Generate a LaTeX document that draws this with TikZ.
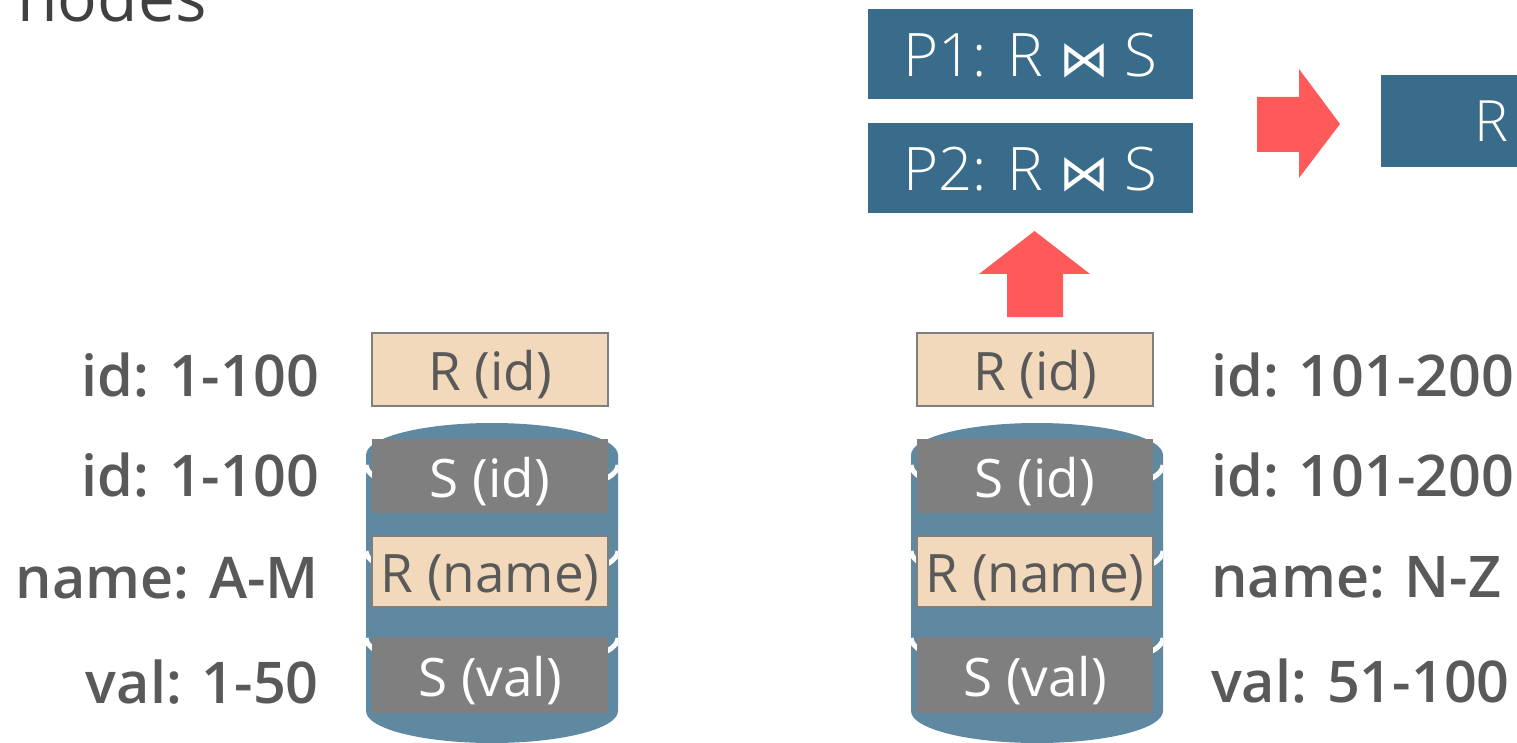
\documentclass[tikz,border=0pt]{standalone}
\usepackage{fontspec}
\setmainfont{Open Sans}
\IfFontExistsTF{Open Sans Semibold}
  {\newfontfamily\semib{Open Sans Semibold}\def\lblsize{57.5}}
  {\IfFontExistsTF{Open Sans SemiBold}
    {\newfontfamily\semib{Open Sans SemiBold}\def\lblsize{57.5}}
    {\newfontfamily\semib[FakeBold=3]{Open Sans}\def\lblsize{56}}}
\IfFontExistsTF{Open Sans Light}
  {\newfontfamily\lightf{Open Sans Light}}
  {\newfontfamily\lightf{Open Sans}}
\newfontfamily\symfont{DejaVu Sans}
\definecolor{boxblue}{HTML}{386C8A}
\definecolor{cylblue}{HTML}{5F88A1}
\definecolor{arrowred}{HTML}{FF5A5A}
\definecolor{peach}{HTML}{F2D9BB}
\definecolor{boxgray}{HTML}{7F7F7F}
\definecolor{txtgray}{HTML}{595959}
\definecolor{titlegray}{HTML}{404040}
\newcommand{\mycylinder}[1]{%
  \begin{scope}[shift={(#1,0)}]
    \path[fill=cylblue] (-126,455) -- (-126,711)
      arc[start angle=180,end angle=360,x radius=126pt,y radius=32pt]
      -- (126,455)
      arc[start angle=0,end angle=180,x radius=126pt,y radius=32pt] -- cycle;
    \begin{scope}
      \clip (-126,455) -- (-126,711)
        arc[start angle=180,end angle=360,x radius=126pt,y radius=32pt]
        -- (126,455)
        arc[start angle=0,end angle=180,x radius=126pt,y radius=32pt] -- cycle;
      \foreach \yy in {465,551,638}{
        \draw[white,line width=5pt] (-126,\yy)
          arc[start angle=180,end angle=360,x radius=126pt,y radius=32pt];
      }
    \end{scope}
  \end{scope}}
\tikzset{
  rbox/.style={draw=boxgray, line width=1.5pt, fill=peach, text=txtgray,
    minimum width=236pt, inner sep=0pt, font=\fontsize{53}{60}\selectfont,
    text height=42pt, text depth=0pt},
  sbox/.style={fill=boxgray, text=white,
    minimum width=236pt, inner sep=0pt, font=\fontsize{53}{60}\selectfont,
    text height=42pt, text depth=0pt},
  pbox/.style={fill=boxblue, text=white, minimum width=325pt, minimum height=90pt,
    inner sep=0pt, font=\lightf\fontsize{60}{70}\selectfont, text height=45pt, text depth=0pt},
  lbl/.style={text=txtgray, inner sep=0pt, font=\semib\fontsize{\lblsize}{70}\selectfont},
  bigarrow/.style={fill=arrowred},
}
\newcommand{\bt}{{\symfont\fontsize{50}{50}\selectfont ⋈}}
\begin{document}
\begin{tikzpicture}[x=1pt,y=-1pt]
\useasboundingbox (0,0) rectangle (1517,743);
\fill[white] (0,0) rectangle (1517,743);
% title (cut off)
\node[anchor=base east, inner sep=0pt, text=titlegray, font=\fontsize{66}{76}\selectfont] (title) at (207,22) {s nodes};
% cylinders
\mycylinder{492}
\mycylinder{1037}
% left stack
\node[rbox, minimum height=73pt] (r1id) at (490,369.5) {R (id)};
\node[sbox, minimum height=74pt] (s1id) at (490,476) {S (id)};
\node[rbox, minimum height=71pt] (r1name) at (490,571.5) {R (name)};
\node[sbox, minimum height=76pt] (s1val) at (490,675) {S (val)};
% right stack
\node[rbox, minimum height=73pt] (r2id) at (1035,369.5) {R (id)};
\node[sbox, minimum height=74pt] (s2id) at (1035,476) {S (id)};
\node[rbox, minimum height=71pt] (r2name) at (1035,571.5) {R (name)};
\node[sbox, minimum height=76pt] (s2val) at (1035,675) {S (val)};
% left labels
\node[lbl, anchor=base east] (l1) at (319,396) {id: 1-100};
\node[lbl, anchor=base east] (l2) at (319,496) {id: 1-100};
\node[lbl, anchor=base east] (l3) at (319,598) {name: A-M};
\node[lbl, anchor=base east] (l4) at (319,703) {val: 1-50};
% right labels
\node[lbl, anchor=base west] (r1) at (1211,396) {id: 101-200};
\node[lbl, anchor=base west] (r2) at (1211,496) {id: 101-200};
\node[lbl, anchor=base west] (r3) at (1211,597) {name: N-Z};
\node[lbl, anchor=base west] (r4) at (1211,702) {val: 51-100};
% join boxes
\node[pbox] (p1) at (1030.5,54) {P1: R \bt{} S};
\node[pbox] (p2) at (1030.5,168) {P2: R \bt{} S};
% result box (cut off)
\path[fill=boxblue] (1381,75) rectangle (1517,167);
\node[anchor=base west, inner sep=0pt, text=white, font=\lightf\fontsize{57}{66}\selectfont] (res) at (1474,142) {R};
% arrows
\fill[bigarrow] (1007,317) -- (1007,274) -- (979,274) -- (1034.5,231) -- (1090,274) -- (1063,274) -- (1063,317) -- cycle;
\fill[bigarrow] (1257,97) -- (1299,97) -- (1299,69) -- (1340,124) -- (1299,178) -- (1299,152) -- (1257,152) -- cycle;
\end{tikzpicture}
\end{document}
